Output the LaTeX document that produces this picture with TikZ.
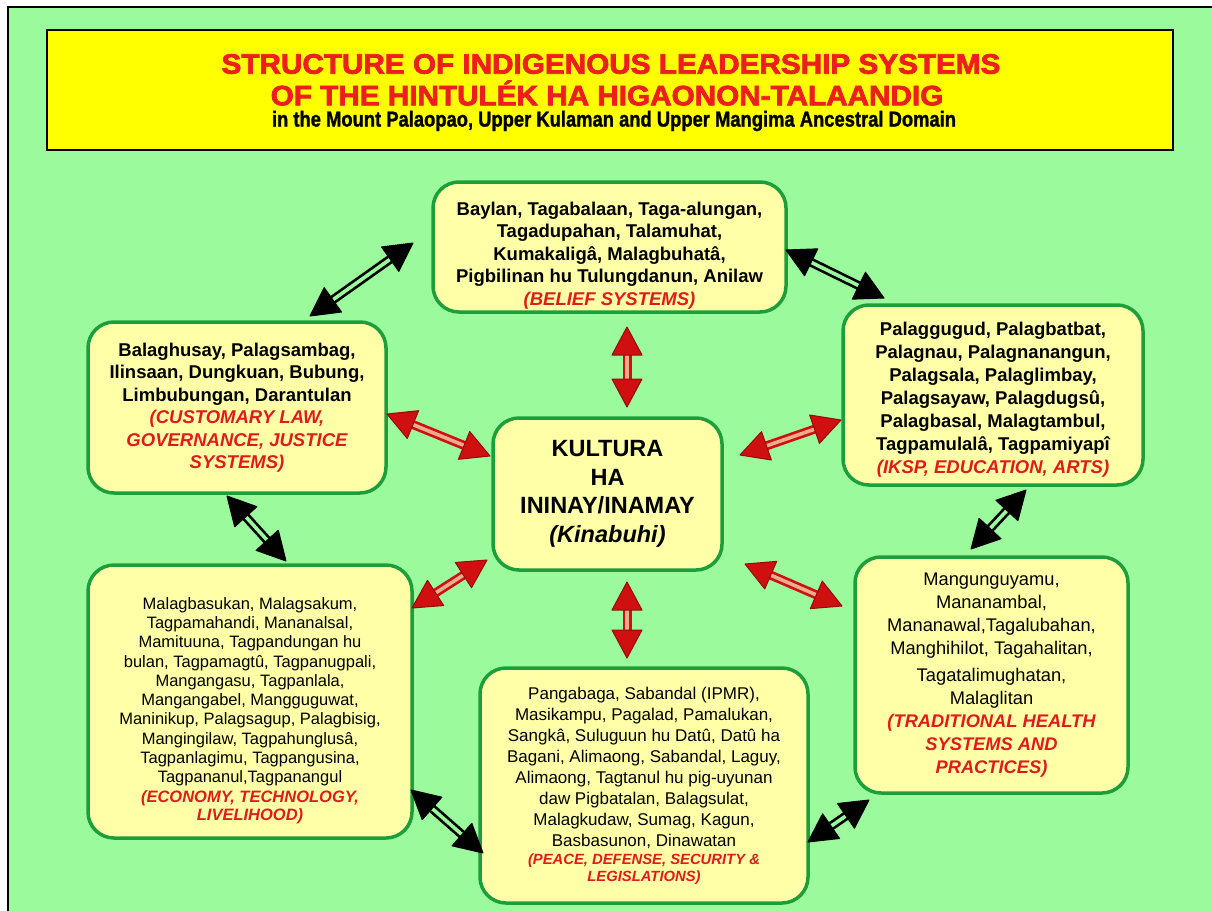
\documentclass[tikz,border=0pt]{standalone}
\usepackage{fontspec}
\usepackage{graphicx}
\setmainfont{Liberation Sans}
\newfontfamily\headfont{Liberation Sans}[BoldFeatures={FakeBold=2.6}]
\newfontfamily\subheadfont{Liberation Sans}[BoldFeatures={FakeBold=1.4}]
\usetikzlibrary{calc}

\definecolor{bggreen}{RGB}{155,250,155}
\definecolor{boxfill}{RGB}{255,255,168}
\definecolor{boxedge}{RGB}{28,158,58}
\definecolor{titleyellow}{RGB}{255,255,0}
\definecolor{titlered}{RGB}{236,30,30}
\definecolor{labred}{RGB}{222,28,28}
\definecolor{arrred}{RGB}{208,16,16}
\definecolor{arredge}{RGB}{150,10,10}
\definecolor{arrinner}{RGB}{236,172,142}

% red italic domain label
\newcommand\cat[1]{\textcolor{labred}{\bfseries\itshape #1}}

% two-headed hollow-shaft arrow between two named points
% #1,#2 tips; #3 head/shaft colour; #4 shaft inner colour; #5 head edge
\newcommand\biarrow[5]{%
  \coordinate (bA) at ($(#1)!28pt!(#2)$);
  \coordinate (bB) at ($(#2)!28pt!(#1)$);
  \draw[line width=9pt,#3] (bA) -- (bB);
  \draw[line width=3.6pt,#4] ($(bA)!-1pt!(bB)$) -- ($(bB)!-1pt!(bA)$);
  \filldraw[fill=#3,draw=#5,line width=1pt,line join=round]
    (#1) -- ($(bA)!15pt!90:(#1)$) -- ($(bA)!15pt!-90:(#1)$) -- cycle;
  \filldraw[fill=#3,draw=#5,line width=1pt,line join=round]
    (#2) -- ($(bB)!15pt!90:(#2)$) -- ($(bB)!15pt!-90:(#2)$) -- cycle;
}

\tikzset{
  domainbox/.style={draw=boxedge, line width=3.5pt, fill=boxfill,
    rounded corners=26pt, align=center, inner sep=0pt},
  titleline/.style={inner sep=0pt, text=titlered},
}

\begin{document}
\begin{tikzpicture}[x=1pt,y=-1pt]
  \useasboundingbox (0,0) rectangle (1212,910);
  \fill[white] (0,0) rectangle (1212,910);
  \draw[line width=2.5pt, fill=bggreen] (8,7) rectangle (1240,940);

  % heading panel
  \node[draw=black, line width=2.5pt, fill=titleyellow, minimum width=1126pt,
        minimum height=120pt, inner sep=0pt] (titlebox) at (610,90) {};
  \node[titleline, font=\fontsize{27}{30}\selectfont\headfont\bfseries] (title1) at (611,64)
    {\scalebox{1.1}[1.04]{STRUCTURE OF INDIGENOUS LEADERSHIP SYSTEMS}};
  \node[titleline, font=\fontsize{27}{30}\selectfont\headfont\bfseries] (title2) at (607,93)
    {\scalebox{1.1}[1.04]{OF THE HINTULÉK HA HIGAONON-TALAANDIG}};
  \node[inner sep=0pt, font=\fontsize{21}{23}\selectfont\subheadfont\bfseries] (title3) at (614,121)
    {\scalebox{0.875}[1.03]{in the Mount Palaopao, Upper Kulaman and Upper Mangima Ancestral Domain}};

  % centre
  \node[domainbox, minimum width=229pt, minimum height=152pt,
        font=\fontsize{23.5}{28.5}\selectfont\bfseries] (core) at (607.5,494)
    {KULTURA\\ HA\\ ININAY/INAMAY\\ \textit{(Kinabuhi)}};

  % belief systems
  \node[domainbox, minimum width=353pt, minimum height=130pt,
        font=\fontsize{18.5}{22.5}\selectfont\bfseries] (belief) at (609.5,247)
    {\rule{0pt}{30pt}Baylan, Tagabalaan, Taga-alungan,\\ Tagadupahan, Talamuhat,\\
     Kumakaligâ, Malagbuhatâ,\\ Pigbilinan hu Tulungdanun, Anilaw\\
     \cat{(BELIEF SYSTEMS)}};

  % customary law
  \node[domainbox, minimum width=298pt, minimum height=171pt,
        font=\fontsize{18.5}{22.5}\selectfont\bfseries] (law) at (237,407.5)
    {Balaghusay, Palagsambag,\\ Ilinsaan, Dungkuan, Bubung,\\
     Limbubungan, Darantulan\\ \cat{(CUSTOMARY LAW,}\\
     \cat{GOVERNANCE, JUSTICE}\\ \cat{SYSTEMS)}};

  % IKSP, education, arts
  \node[domainbox, minimum width=300pt, minimum height=180pt,
        font=\fontsize{18.5}{23}\selectfont\bfseries] (iksp) at (993,395)
    {\rule{0pt}{23.5pt}Palaggugud, Palagbatbat,\\ Palagnau, Palagnanangun,\\
     Palagsala, Palaglimbay,\\ Palagsayaw, Palagdugsû,\\
     Palagbasal, Malagtambul,\\ Tagpamulalâ, Tagpamiyapî\\
     \cat{(IKSP, EDUCATION, ARTS)}};

  % economy
  \node[domainbox, minimum width=324pt, minimum height=273pt,
        font=\fontsize{16.5}{19.3}\selectfont] (economy) at (250,701.5)
    {\rule{0pt}{30pt}Malagbasukan, Malagsakum,\\ Tagpamahandi, Mananalsal,\\
     Mamituuna, Tagpandungan hu\\ bulan, Tagpamagtû, Tagpanugpali,\\
     Mangangasu, Tagpanlala,\\ Mangangabel, Mangguguwat,\\
     Maninikup, Palagsagup, Palagbisig,\\ Mangingilaw, Tagpahunglusâ,\\
     Tagpanlagimu, Tagpangusina,\\ Tagpananul,Tagpanangul\\
     \cat{(ECONOMY, TECHNOLOGY,}\\[-1pt] \cat{LIVELIHOOD)}};

  % peace and defense
  \node[domainbox, minimum width=328pt, minimum height=235pt,
        font=\fontsize{17}{21}\selectfont] (peace) at (644,785.5)
    {Pangabaga, Sabandal (IPMR),\\ Masikampu, Pagalad, Pamalukan,\\
     Sangkâ, Suluguun hu Datû, Datû ha\\ Bagani, Alimaong, Sabandal, Laguy,\\
     Alimaong, Tagtanul hu pig-uyunan\\ daw Pigbatalan, Balagsulat,\\
     Malagkudaw, Sumag, Kagun,\\ Basbasunon, Dinawatan\\[-3pt]
     {\fontsize{14.8}{17}\selectfont\cat{(PEACE, DEFENSE, SECURITY \&}}\\[-4pt]
     {\fontsize{14.8}{17}\selectfont\cat{LEGISLATIONS)}}};

  % traditional health
  \node[domainbox, minimum width=273pt, minimum height=236pt,
        font=\fontsize{18.3}{23}\selectfont] (health) at (991.5,675)
    {Mangunguyamu,\\ Mananambal,\\ Mananawal,Tagalubahan,\\
     Manghihilot, Tagahalitan,\\[4pt] Tagatalimughatan,\\ Malaglitan\\
     \cat{(TRADITIONAL HEALTH}\\ \cat{SYSTEMS AND}\\ \cat{PRACTICES)}};

  % arrow tips between neighbouring domains
  \coordinate (law-belief) at (310,316);
  \coordinate (belief-law) at (413,243);
  \coordinate (belief-iksp) at (786,250);
  \coordinate (iksp-belief) at (884,298);
  \coordinate (law-economy) at (227,496);
  \coordinate (economy-law) at (286,561);
  \coordinate (iksp-health) at (1026,490);
  \coordinate (health-iksp) at (971,549);
  \coordinate (economy-peace) at (411,790);
  \coordinate (peace-economy) at (483,853);
  \coordinate (peace-health) at (808,842);
  \coordinate (health-peace) at (869,800);

  % arrow tips between the centre and each domain
  \coordinate (belief-core) at (627,327);
  \coordinate (core-belief) at (627,407);
  \coordinate (law-core) at (387,414);
  \coordinate (core-law) at (490,456);
  \coordinate (iksp-core) at (841,420);
  \coordinate (core-iksp) at (740,455);
  \coordinate (economy-core) at (412,608);
  \coordinate (core-economy) at (487,560);
  \coordinate (peace-core) at (627,658);
  \coordinate (core-peace) at (627,582);
  \coordinate (health-core) at (842,606);
  \coordinate (core-health) at (745,564);

  \biarrow{law-belief}{belief-law}{black}{bggreen}{black}
  \biarrow{belief-iksp}{iksp-belief}{black}{bggreen}{black}
  \biarrow{law-economy}{economy-law}{black}{bggreen}{black}
  \biarrow{iksp-health}{health-iksp}{black}{bggreen}{black}
  \biarrow{economy-peace}{peace-economy}{black}{bggreen}{black}
  \biarrow{peace-health}{health-peace}{black}{bggreen}{black}

  \biarrow{belief-core}{core-belief}{arrred}{arrinner}{arredge}
  \biarrow{law-core}{core-law}{arrred}{arrinner}{arredge}
  \biarrow{iksp-core}{core-iksp}{arrred}{arrinner}{arredge}
  \biarrow{economy-core}{core-economy}{arrred}{arrinner}{arredge}
  \biarrow{peace-core}{core-peace}{arrred}{arrinner}{arredge}
  \biarrow{health-core}{core-health}{arrred}{arrinner}{arredge}
\end{tikzpicture}
\end{document}
